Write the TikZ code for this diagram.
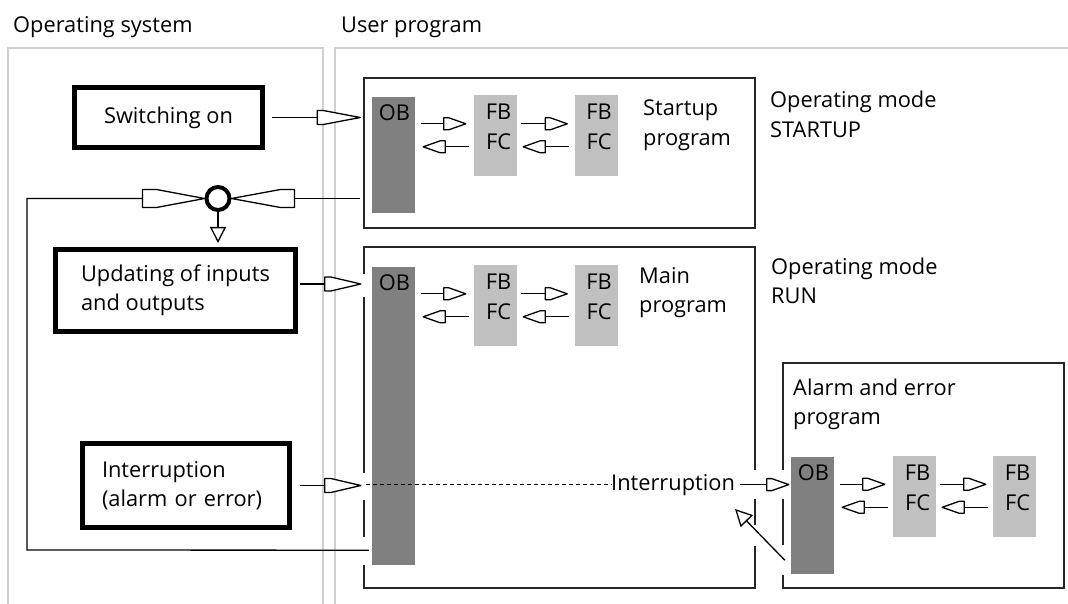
\documentclass[tikz,border=0pt]{standalone}
\usepackage{fontspec}
\setmainfont{Open Sans}
\usetikzlibrary{arrows.meta,calc}

\pgfdeclarearrow{
  name = Pen,
  parameters = {\the\pgfarrowlength,\the\pgfarrowwidth,\the\pgfarrowinset,\ifpgfarrowopen o\fi},
  setup code = {
    \pgfarrowssettipend{0pt}
    \pgfarrowssetlineend{-\pgfarrowlength}
    \pgfarrowssetbackend{-\pgfarrowlength}
    \pgfarrowssetvisualbackend{-\pgfarrowlength}
    \pgfarrowssavethe\pgfarrowlength
    \pgfarrowssavethe\pgfarrowwidth
    \pgfarrowssavethe\pgfarrowinset
  },
  drawing code = {
    \pgfsetroundjoin
    \pgfpathmoveto{\pgfpoint{-\pgfarrowlength}{.5\pgfarrowwidth}}
    \pgfpathlineto{\pgfpoint{-\pgfarrowlength+\pgfarrowinset}{.5\pgfarrowwidth}}
    \pgfpathlineto{\pgfpoint{0pt}{0pt}}
    \pgfpathlineto{\pgfpoint{-\pgfarrowlength+\pgfarrowinset}{-.5\pgfarrowwidth}}
    \pgfpathlineto{\pgfpoint{-\pgfarrowlength}{-.5\pgfarrowwidth}}
    \pgfpathclose
    \ifpgfarrowopen\pgfusepathqstroke\else\pgfusepathqfillstroke\fi
  },
  defaults = {length=22pt, width=12pt, inset=5pt}
}

\definecolor{obgray}{HTML}{808080}
\definecolor{fbgray}{HTML}{C0C0C0}
\definecolor{panelc}{HTML}{D0D0D0}
\definecolor{boxc}{HTML}{262626}

\newcommand\obchain[3]{%
  \coordinate (#2f) at ($(#2.north)+(0,29)$);
  \coordinate (#2b) at ($(#2.north)+(0,52)$);
  \draw[conn,smtip,shorten <=6pt,shorten >=8pt] (#1.east |- #2f) -- (#2.west |- #2f);
  \draw[conn,smtip,shorten <=5pt,shorten >=8pt] (#2.west |- #2b) -- (#1.east |- #2b);
  \draw[conn,smtip,shorten <=4pt,shorten >=7pt] (#2.east |- #2f) -- (#3.west |- #2f);
  \draw[conn,smtip,shorten <=5pt,shorten >=6pt] (#3.west |- #2b) -- (#2.east |- #2b);
  \node[txt,anchor=base] (#2t1) at ($(#2.north)+(3,25)$) {FB};
  \node[txt,anchor=base] (#2t2) at ($(#2.north)+(3,55)$) {FC};
  \node[txt,anchor=base] (#3t1) at ($(#3.north)+(3,25)$) {FB};
  \node[txt,anchor=base] (#3t2) at ($(#3.north)+(3,55)$) {FC};
  \node[txt,anchor=base] (#1t) at ($(#1.north)+(1,24)$) {OB};
}

\begin{document}
\begin{tikzpicture}[x=1pt,y=-1pt,
  txt/.style={inner sep=0pt, font=\fontsize{21.8}{29.5}\selectfont, text=black},
  lbl/.style={txt, anchor=base west},
  obbox/.style={fill=obgray, inner sep=0pt, minimum width=43pt},
  fbbox/.style={fill=fbgray, inner sep=0pt, minimum width=43pt, minimum height=81pt},
  thickbox/.style={txt, draw=black, line width=5pt, align=left},
  progbox/.style={inner sep=0pt},
  boxline/.style={draw=boxc, line width=1.5pt},
  panelline/.style={draw=panelc, line width=1.5pt},
  conn/.style={draw=black, line width=1.3pt},
  smtip/.style={-{Pen[length=22pt,width=12pt,inset=5pt,fill=white]}},
  bigtip/.style={-{Pen[length=#1,width=14pt,inset=6pt,fill=white]}},
  looptip/.style={-{Pen[length=62pt,width=18pt,inset=14pt,fill=white]}},
]
\useasboundingbox (0,0) rectangle (1068,604);

% panels
\draw[panelline] (8,604) -- (8,48) -- (323,48) -- (323,604);
\draw[panelline] (335,604) -- (335,48) -- (1068,48);
\node[lbl] (ostitle) at (13,33) {Operating system};
\node[lbl] (uptitle) at (341,33) {User program};

% program boxes
\node[progbox, boxline, minimum width=391pt, minimum height=150pt] (sbox) at (559.5,153) {};
\node[progbox, minimum width=391pt, minimum height=341pt] (mbox) at (559.5,417.5) {};
\node[progbox, minimum width=281pt, minimum height=225pt] (abox) at (923.5,475.5) {};
\draw[boxline] (364,274) -- (364,247) -- (755,247) -- (755,470);
\draw[boxline] (755,499) -- (755,525);
\draw[boxline] (755,546) -- (755,588) -- (364,588) -- (364,565);
\draw[boxline] (364,537) -- (364,500);
\draw[boxline] (364,473) -- (364,297);
\draw[boxline] (783,470) -- (783,363) -- (1064,363) -- (1064,588) -- (783,588) -- (783,575);
\draw[boxline] (783,545) -- (783,499);

% OS boxes
\node[thickbox, minimum width=188pt, minimum height=60pt] (swbox) at (168.5,117.5) {Switching on};
\node[thickbox, minimum width=240pt, minimum height=82pt] (ubox) at (175.5,290.5) {Updating of inputs\\and outputs};
\node[thickbox, minimum width=207pt, minimum height=84pt, text width=168pt] (ibox) at (186,485.5) {Interruption\\(alarm or error)};
\node[circle, draw=black, line width=4pt, minimum size=23pt, inner sep=0pt] (circ) at (218,198.5) {};

% OB / FB blocks
\node[obbox, minimum height=116pt] (sob) at (393.5,155) {};
\node[obbox, minimum height=298pt] (mob) at (393.5,416) {};
\node[obbox, minimum height=117pt] (aob) at (812.5,515.5) {};
\node[fbbox] (sfa) at (495.5,135.5) {};
\node[fbbox] (sfb) at (596,135.5) {};
\node[fbbox] (mfa) at (495.5,305.5) {};
\node[fbbox] (mfb) at (596,305.5) {};
\node[fbbox] (afa) at (914.5,496) {};
\node[fbbox] (afb) at (1014.5,496) {};
\obchain{sob}{sfa}{sfb}
\obchain{mob}{mfa}{mfb}
\obchain{aob}{afa}{afb}

% labels
\node[lbl] (stp1) at (643,116) {Startup};
\node[lbl] (stp2) at (643,145.5) {program};
\node[lbl] (mop1) at (770,108) {Operating mode};
\node[lbl] (mop2) at (770,137.5) {STARTUP};
\node[lbl] (mn1) at (639,283) {Main};
\node[lbl] (mn2) at (639,312.5) {program};
\node[lbl] (run1) at (771,274) {Operating mode};
\node[lbl] (run2) at (771,303.5) {RUN};
\node[lbl] (al1) at (793,395) {Alarm and error};
\node[lbl] (al2) at (793,424.5) {program};
\node[lbl] (intr) at (611,490) {Interruption};

% connectors
\draw[conn, bigtip=43pt, shorten <=7pt, shorten >=3pt] (swbox.east) -- (sbox.west |- swbox.east);
\coordinate (uo) at ([yshift=6.5pt]ubox.east);
\draw[conn, bigtip=36pt, shorten <=2pt, shorten >=3pt] (uo) -- (mbox.west |- uo);
\draw[conn, bigtip=36pt, shorten <=8pt, shorten >=3pt] (ibox.east) -- (mbox.west |- ibox.east);
\draw[conn, dash pattern=on 4pt off 3pt, shorten <=2pt] (mbox.west |- intr.west) -- (intr.west);
\draw[conn, smtip, shorten <=5pt, shorten >=2pt] (intr.east) -- (aob.west |- intr.east);
\coordinate (dstart) at ($(aob.south west)+(-6,-14)$);
\coordinate (dtip) at (735,509);
\draw[conn, -{Triangle[length=17pt,width=17pt,fill=white]}] (dstart) -- (dtip);

% loop
\coordinate (lpB) at (27,550);
\coordinate (lpT) at (27,198.5);
\draw[conn, looptip] ($(mob.south west)+(-3,-15)$) -- (lpB) -- (lpT) -- (circ.west);
\draw[conn, -{Pen[length=63pt,width=18pt,inset=14pt,fill=white]}, shorten <=3pt] (sbox.west |- circ) -- (circ.east);
\draw[conn, -{Triangle[length=16pt,width=16pt,fill=white]}, shorten >=4pt] (circ.south) -- (circ |- ubox.north);
\end{tikzpicture}
\end{document}
